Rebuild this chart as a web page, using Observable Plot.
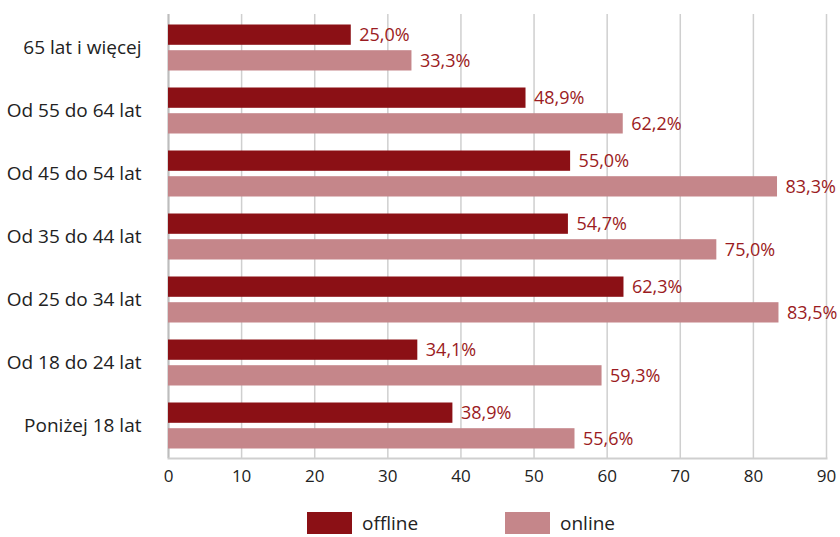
<!DOCTYPE html>
<html><head><meta charset="utf-8">
<script src="https://cdn.jsdelivr.net/npm/d3@7"></script>
<script src="https://cdn.jsdelivr.net/npm/@observablehq/plot@0.6"></script>
<style>
body{margin:0;background:#fff;font-family:"Open Sans",sans-serif;}
#legend{display:flex;gap:0;margin-left:307px;margin-top:12px;}
.item{display:flex;align-items:center;width:198px;height:22px;line-height:22px;font-size:19px;color:#222;}
.sw{width:45px;height:22px;margin-right:10px;}
</style></head>
<body><div id="chart"></div><div id="legend"></div>
<script>
const ages = ["65 lat i więcej","Od 55 do 64 lat","Od 45 do 54 lat","Od 35 do 44 lat","Od 25 do 34 lat","Od 18 do 24 lat","Poniżej 18 lat"];
const offline = [25.0, 48.9, 55.0, 54.7, 62.3, 34.1, 38.9];
const online = [33.3, 62.2, 83.3, 75.0, 83.5, 59.3, 55.6];
const series = ["offline","online"];
const colors = ["#8b1015","#c5868a"];
const xTicks = [0,10,20,30,40,50,60,70,80,90];

const fmt = v => v.toFixed(1).replace(".", ",") + "%";
const offData = ages.map((a,i)=>({age:a, value:offline[i], series:"offline"}));
const onData = ages.map((a,i)=>({age:a, value:online[i], series:"online"}));

const W = 840, H = 500;
const plot = Plot.plot({
  width: W, height: H,
  marginLeft: 168, marginRight: 14, marginTop: 14, marginBottom: 42,
  style: {fontFamily: "'Open Sans', sans-serif", fontSize: "16px", color: "#222", background: "#fff"},
  x: {domain: [0, 90], ticks: xTicks, label: null, tickSize: 0, tickPadding: 11},
  y: {domain: ages, padding: 0, label: null, tickSize: 0, tickPadding: 27},
  marks: [
    Plot.gridX(xTicks, {stroke: "#cfcfcf", strokeOpacity: 1, strokeWidth: 1.5}),
    Plot.ruleX([0], {stroke: "#bdbdbd", strokeWidth: 2}),
    Plot.frame({anchor: "bottom", stroke: "#cfcfcf", strokeWidth: 2}),
    Plot.barX(offData, {y: "age", x: "value", fill: colors[0], insetTop: 8.5, insetBottom: 34.2}),
    Plot.barX(onData, {y: "age", x: "value", fill: colors[1], insetTop: 34.2, insetBottom: 8.5}),
    Plot.text(offData, {y: "age", x: "value", text: d => fmt(d.value), dx: 8, dy: -13, textAnchor: "start", fill: "#9b1b22", fontSize: 18}),
    Plot.text(onData, {y: "age", x: "value", text: d => fmt(d.value), dx: 8, dy: 13, textAnchor: "start", fill: "#9b1b22", fontSize: 18}),
    Plot.axisY({tickSize: 0, tickPadding: 27, fontSize: 19, fill: "#222"}),
    Plot.axisX({ticks: xTicks, tickSize: 0, tickPadding: 11, fontSize: 17, fill: "#222"})
  ]
});
document.getElementById("chart").appendChild(plot);

const lg = document.getElementById("legend");
series.forEach((s,i)=>{
  const it = document.createElement("div"); it.className="item";
  const sw = document.createElement("div"); sw.className="sw"; sw.style.background = colors[i];
  const t = document.createElement("span"); t.textContent = s;
  it.appendChild(sw); it.appendChild(t); lg.appendChild(it);
});
</script></body></html>
